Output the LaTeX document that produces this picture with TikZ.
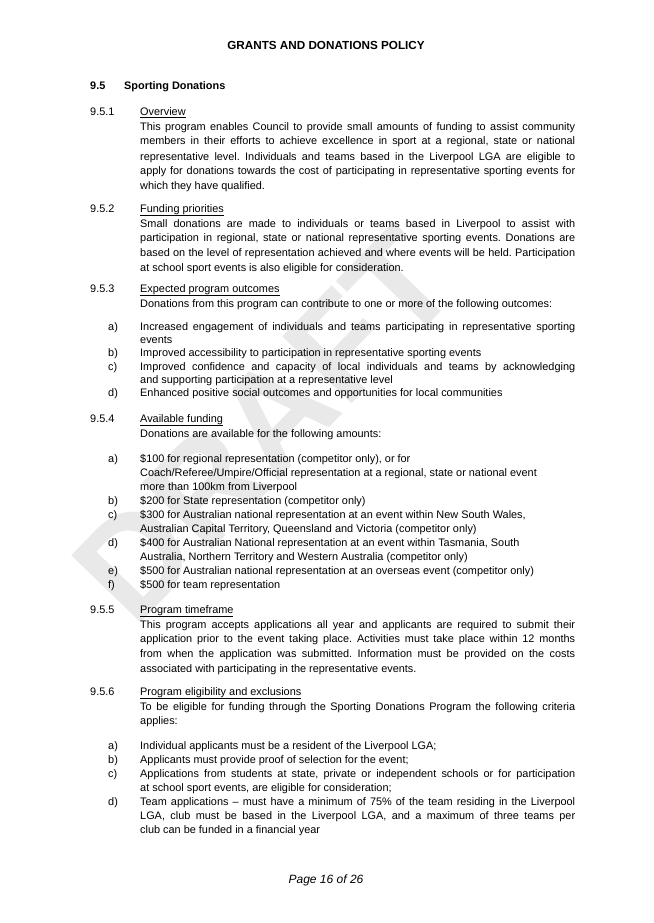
\documentclass[tikz,border=0pt]{standalone}
\usepackage{fontspec}
\setmainfont{Liberation Sans}
\frenchspacing
\newcommand{\jline}[2]{\node[anchor=base west,inner sep=0] at (140,#1) {\makebox[435pt][s]{#2}};}
\newcommand{\pline}[2]{\node[anchor=base west,inner sep=0] at (140,#1) {#2};}
\newcommand{\lab}[3]{\node[anchor=base west,inner sep=0] at (#1,#2) {#3};}
\begin{document}
\begin{tikzpicture}[x=1pt,y=-1pt,font=\fontsize{10.9}{12}\selectfont]
\useasboundingbox (0,0) rectangle (653,923);
\fill[white] (0,0) rectangle (653,923);
% watermark
\node[rotate=-46,text=gray!17,font=\fontsize{140}{140}\selectfont\bfseries] (wm) at (265,425) {\rotatebox{92}{DRAFT}};
\node[font=\fontsize{11.7}{13}\selectfont\bfseries] (hdr) at (326,45) {GRANTS AND DONATIONS POLICY};
\lab{90}{90}{\bfseries 9.5}
\lab{124}{90}{\bfseries Sporting Donations}
% 9.5.1
\lab{90}{116}{9.5.1}
\pline{116}{\underline{Overview}}
\jline{131}{This program enables Council to provide small amounts of funding to assist community}
\jline{145}{members in their efforts to achieve excellence in sport at a regional, state or national}
\jline{160}{representative level. Individuals and teams based in the Liverpool LGA are eligible to}
\jline{174}{apply for donations towards the cost of participating in representative sporting events for}
\pline{189}{which they have qualified.}
% 9.5.2
\lab{90}{212}{9.5.2}
\pline{212}{\underline{Funding priorities}}
\jline{227}{Small donations are made to individuals or teams based in Liverpool to assist with}
\jline{241}{participation in regional, state or national representative sporting events. Donations are}
\jline{256}{based on the level of representation achieved and where events will be held. Participation}
\pline{271}{at school sport events is also eligible for consideration.}
% 9.5.3
\lab{90}{292}{9.5.3}
\pline{292}{\underline{Expected program outcomes}}
\pline{307}{Donations from this program can contribute to one or more of the following outcomes:}
\lab{108}{330}{a)}
\jline{330}{Increased engagement of individuals and teams participating in representative sporting}
\pline{343}{events}
\lab{108}{356}{b)}
\pline{356}{Improved accessibility to participation in representative sporting events}
\lab{108}{370}{c)}
\jline{370}{Improved confidence and capacity of local individuals and teams by acknowledging}
\pline{383}{and supporting participation at a representative level}
\lab{108}{396}{d)}
\pline{396}{Enhanced positive social outcomes and opportunities for local communities}
% 9.5.4
\lab{90}{422}{9.5.4}
\pline{422}{\underline{Available funding}}
\pline{437}{Donations are available for the following amounts:}
\lab{108}{462}{a)}
\pline{462}{\$100 for regional representation (competitor only), or for}
\pline{476}{Coach/Referee/Umpire/Official representation at a regional, state or national event}
\pline{490}{more than 100km from Liverpool}
\lab{108}{504}{b)}
\pline{504}{\$200 for State representation (competitor only)}
\lab{108}{518}{c)}
\pline{518}{\$300 for Australian national representation at an event within New South Wales,}
\pline{532}{Australian Capital Territory, Queensland and Victoria (competitor only)}
\lab{108}{546}{d)}
\pline{546}{\$400 for Australian National representation at an event within Tasmania, South}
\pline{560}{Australia, Northern Territory and Western Australia (competitor only)}
\lab{108}{574}{e)}
\pline{574}{\$500 for Australian national representation at an overseas event (competitor only)}
\lab{108}{588}{f)}
\pline{588}{\$500 for team representation}
% 9.5.5
\lab{90}{613}{9.5.5}
\pline{613}{\underline{Program timeframe}}
\jline{628}{This program accepts applications all year and applicants are required to submit their}
\jline{642}{application prior to the event taking place. Activities must take place within 12 months}
\jline{657}{from when the application was submitted. Information must be provided on the costs}
\pline{672}{associated with participating in the representative events.}
% 9.5.6
\lab{90}{695}{9.5.6}
\pline{695}{\underline{Program eligibility and exclusions}}
\jline{710}{To be eligible for funding through the Sporting Donations Program the following criteria}
\pline{724}{applies:}
\lab{108}{749}{a)}
\pline{749}{Individual applicants must be a resident of the Liverpool LGA;}
\lab{108}{763}{b)}
\pline{763}{Applicants must provide proof of selection for the event;}
\lab{108}{777}{c)}
\jline{777}{Applications from students at state, private or independent schools or for participation}
\pline{791}{at school sport events, are eligible for consideration;}
\lab{108}{805}{d)}
\jline{805}{Team applications -- must have a minimum of 75\% of the team residing in the Liverpool}
\jline{819}{LGA, club must be based in the Liverpool LGA, and a maximum of three teams per}
\pline{833}{club can be funded in a financial year}
\node[font=\fontsize{12}{14}\selectfont\itshape] (ftr) at (326,880) {Page 16 of 26};
\end{tikzpicture}
\end{document}
